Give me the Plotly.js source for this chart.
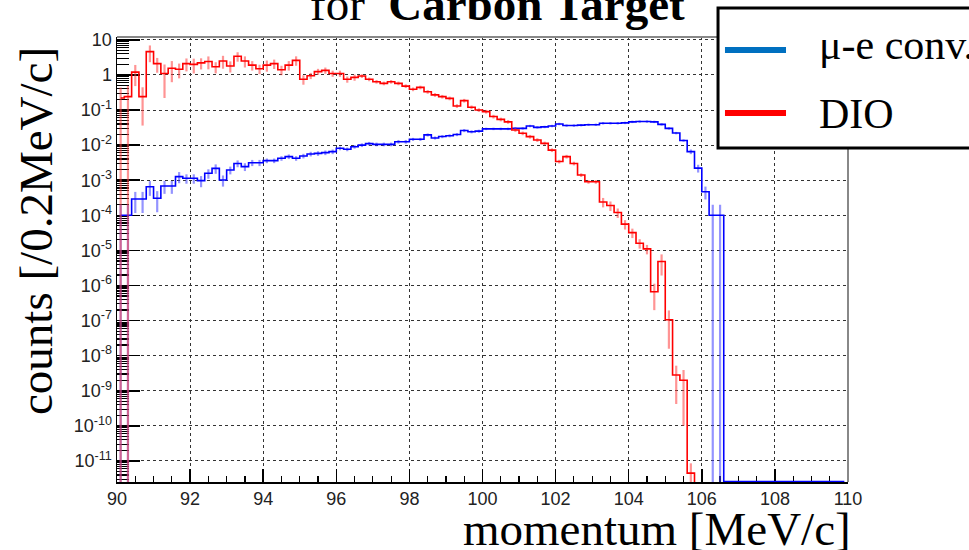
<!DOCTYPE html>
<html><head><meta charset="utf-8">
<script src="https://cdn.plot.ly/plotly-3.0.1.min.js"></script>
<style>html,body{margin:0;padding:0;background:#fff;overflow:hidden}#chart{width:969px;height:550px}</style>
</head><body><div id="chart"></div>
<script>
// Histogram binning (MeV/c)
const binLow = 90;
const binWidth = 0.2;

// DIO counts per 0.2 MeV/c bin; last entry: below plot floor
const dioCounts = [
  0.22, 0.24, 1.2, 0.24, 4.6, 2.1, 1.1, 1.55, 1.45, 2.1,
  2.0, 2.2, 2.4, 1.7, 2.5, 1.8, 3.4, 2.5, 1.9, 1.5,
  1.9, 2.1, 1.4, 1.9, 2.6, 0.75, 0.95, 1.24, 1.35, 1.1,
  1.1, 0.75, 0.85, 0.93, 0.75, 0.64, 0.575, 0.64, 0.575, 0.48,
  0.39, 0.44, 0.33, 0.27, 0.24, 0.215, 0.13, 0.185, 0.12, 0.10,
  0.09, 0.065, 0.054, 0.046, 0.027, 0.0217, 0.0174, 0.014, 0.0112, 0.0072,
  0.0034, 0.0047, 0.003, 0.0014, 0.0009, 0.0009, 2.4e-4, 1.9e-4, 1.2e-4, 5.6e-5,
  3.2e-5, 1.6e-5, 1.1e-5, 6.6e-7, 4.8e-6, 1.05e-7, 2.8e-9, 2.0e-9, 4.5e-12, 1e-13
];
// DIO relative errors per bin
const dioRelErr = [
  1.0, 1.0, 0.6, 0.85, 0.5, 0.45, 0.8, 0.6, 0.45, 0.4,
  0.45, 0.35, 0.4, 0.35, 0.4, 0.35, 0.3, 0.35, 0.3, 0.3,
  0.35, 0.3, 0.3, 0.3, 0.3, 0.3, 0.2, 0.2, 0.2, 0.2,
  0.2, 0.2, 0.2, 0.12, 0.12, 0.12, 0.12, 0.12, 0.12, 0.12,
  0.12, 0.12, 0.12, 0.12, 0.12, 0.12, 0.12, 0.12, 0.12, 0.12,
  0.12, 0.12, 0.12, 0.12, 0.12, 0.12, 0.12, 0.12, 0.12, 0.12,
  0.12, 0.12, 0.12, 0.12, 0.12, 0.12, 0.3, 0.3, 0.3, 0.3,
  0.3, 0.3, 0.3, 0.7, 0.6, 0.85, 0.85, 0.95, 0.9, 0
];

// mu-e conversion counts per bin; last bins sit on the plot floor
const convCounts = [
  1e-4, 1e-4, 2.9e-4, 2.9e-4, 6.5e-4, 3.05e-4, 6.8e-4, 6.8e-4, 1.26e-3, 1.13e-3,
  1.13e-3, 9.7e-4, 1.57e-3, 2.17e-3, 1.01e-3, 1.95e-3, 3.0e-3, 2.43e-3, 3.15e-3, 3.15e-3,
  3.6e-3, 3.6e-3, 4.2e-3, 4.7e-3, 4.2e-3, 4.9e-3, 5.6e-3, 5.8e-3, 6.1e-3, 6.5e-3,
  8.1e-3, 7.6e-3, 9.0e-3, 1.0e-2, 1.1e-2, 1.05e-2, 1.05e-2, 1.05e-2, 1.25e-2, 1.25e-2,
  1.46e-2, 1.46e-2, 1.95e-2, 1.6e-2, 1.75e-2, 1.85e-2, 2.0e-2, 2.6e-2, 2.4e-2, 2.5e-2,
  2.9e-2, 2.9e-2, 2.9e-2, 2.9e-2, 3.0e-2, 3.0e-2, 3.5e-2, 3.2e-2, 3.3e-2, 3.5e-2,
  4.0e-2, 3.6e-2, 3.6e-2, 3.7e-2, 3.8e-2, 3.8e-2, 4.2e-2, 4.2e-2, 4.2e-2, 4.3e-2,
  4.6e-2, 4.7e-2, 4.7e-2, 4.6e-2, 3.9e-2, 3.0e-2, 2.2e-2, 1.35e-2, 6.5e-3, 2.2e-3,
  4.7e-4, 1e-4, 1e-4, 2.6e-12, 2.6e-12, 2.6e-12, 2.6e-12, 2.6e-12, 2.6e-12, 2.6e-12,
  2.6e-12, 2.6e-12, 2.6e-12, 2.6e-12, 2.6e-12, 2.6e-12, 2.6e-12, 2.6e-12, 2.6e-12, 2.6e-12
];
const convRelErr = [
  1.0, 1.0, 0.6, 0.6, 0.45, 0.6, 0.4, 0.4, 0.35, 0.3,
  0.3, 0.35, 0.3, 0.3, 0.35, 0.25, 0.22, 0.25, 0.2, 0.2,
  0.15, 0.15, 0.15, 0.15, 0.15, 0.15, 0.15, 0.15, 0.15, 0.15,
  0.12, 0.12, 0.12, 0.12, 0.12, 0.12, 0.12, 0.12, 0.12, 0.12,
  0.1, 0.1, 0.1, 0.1, 0.1, 0.1, 0.1, 0.1, 0.1, 0.1,
  0.08, 0.08, 0.08, 0.08, 0.08, 0.08, 0.08, 0.08, 0.08, 0.08,
  0.08, 0.08, 0.08, 0.08, 0.08, 0.08, 0.08, 0.08, 0.08, 0.08,
  0.08, 0.08, 0.08, 0.08, 0.08, 0.08, 0.08, 0.08, 0.15, 0.25,
  0.4, 1.0, 1.0, 0, 0, 0, 0, 0, 0, 0,
  0, 0, 0, 0, 0, 0, 0, 0, 0, 0
];

const seriesNames = ['μ-e conv.', 'DIO'];
const xTickVals = [90, 92, 94, 96, 98, 100, 102, 104, 106, 108, 110];
const xTickText = ['90', '92', '94', '96', '98', '100', '102', '104', '106', '108', '110'];
const yTickVals = [1e-11, 1e-10, 1e-9, 1e-8, 1e-7, 1e-6, 1e-5, 1e-4, 1e-3, 1e-2, 1e-1, 1, 10];
const yTickText = ['10<sup>-11</sup>', '10<sup>-10</sup>', '10<sup>-9</sup>', '10<sup>-8</sup>', '10<sup>-7</sup>',
  '10<sup>-6</sup>', '10<sup>-5</sup>', '10<sup>-4</sup>', '10<sup>-3</sup>', '10<sup>-2</sup>',
  '10<sup>-1</sup>', '1', '10'];
const titleText = 'for  <b>Carbon Target</b>';
const xTitle = 'momentum [MeV/c]';
const yTitle = 'counts [/0.2MeV/c]';

function centers(n) { const c = []; for (let i = 0; i < n; i++) c.push(+(binLow + binWidth * (i + 0.5)).toFixed(3)); return c; }
function absErr(v, r) { return v.map((y, i) => y * r[i]); }

// minor tick positions for the log axis (2..9 in each decade)
const yMinor = [];
for (let p = -12; p <= 1; p++) for (let m = 2; m <= 9; m++) yMinor.push(m * Math.pow(10, p));

const convTrace = {
  type: 'scatter', mode: 'lines', name: seriesNames[0],
  x: centers(convCounts.length), y: convCounts,
  line: { shape: 'hvh', color: '#0000ff', width: 1.6 },
  error_y: { type: 'data', array: absErr(convCounts, convRelErr), visible: true, color: 'rgba(60,60,255,0.55)', thickness: 2.2, width: 0 },
  hoverinfo: 'skip'
};
const dioTrace = {
  type: 'scatter', mode: 'lines', name: seriesNames[1],
  x: centers(dioCounts.length), y: dioCounts,
  line: { shape: 'hvh', color: '#ff0000', width: 1.6 },
  error_y: { type: 'data', array: absErr(dioCounts, dioRelErr), visible: true, color: 'rgba(255,60,60,0.55)', thickness: 2.2, width: 0 },
  hoverinfo: 'skip'
};

const tickFont = { family: 'Liberation Sans, Arial, sans-serif', size: 18, color: '#222' };
const serif = 'Liberation Serif, Times New Roman, serif';

const layout = {
  width: 969, height: 550,
  margin: { l: 117, r: 121, t: 37, b: 68, pad: 0 },
  paper_bgcolor: '#fff', plot_bgcolor: '#fff',
  showlegend: false,
  xaxis: {
    range: [90, 110], tickmode: 'array', tickvals: xTickVals, ticktext: xTickText,
    ticks: 'inside', ticklen: 13, tickwidth: 1.5, tickcolor: '#000',
    showline: true, linecolor: '#000', linewidth: 1.5,
    showgrid: true, gridcolor: '#333', griddash: 'dot', gridwidth: 1, zeroline: false,
    tickfont: tickFont, layer: 'below traces', fixedrange: true,
    minor: { tickmode: 'linear', tick0: 90, dtick: 0.5, ticks: 'inside', ticklen: 6, tickwidth: 1.2, tickcolor: '#000', showgrid: false }
  },
  yaxis: {
    type: 'log', range: [-11.6, 1.08], tickmode: 'array', tickvals: yTickVals, ticktext: yTickText,
    ticks: 'inside', ticklen: 23, tickwidth: 1.5, tickcolor: '#000',
    showline: true, linecolor: '#000', linewidth: 1.5,
    showgrid: true, gridcolor: '#333', griddash: 'dot', gridwidth: 1, zeroline: false,
    tickfont: tickFont, layer: 'below traces', fixedrange: true,
    minor: { tickmode: 'array', tickvals: yMinor, ticks: 'inside', ticklen: 12, tickwidth: 1.2, tickcolor: '#000', showgrid: false }
  },
  shapes: [
    { type: 'line', xref: 'paper', yref: 'paper', x0: 0, x1: 1, y0: 1, y1: 1, line: { color: '#888', width: 2 } },
    { type: 'line', xref: 'paper', yref: 'paper', x0: 1, x1: 1, y0: 0, y1: 1, line: { color: '#888', width: 2 } },
    { type: 'rect', xref: 'paper', yref: 'paper', x0: 0.8222, x1: 1.19, y0: 0.7506, y1: 1.0652, line: { color: '#000', width: 3 }, fillcolor: '#fff', layer: 'above' },
    { type: 'line', xref: 'paper', yref: 'paper', x0: 0.8317, x1: 0.9152, y0: 0.9708, y1: 0.9708, line: { color: 'rgb(0,112,192)', width: 6 }, layer: 'above' },
    { type: 'line', xref: 'paper', yref: 'paper', x0: 0.8317, x1: 0.9152, y0: 0.8292, y1: 0.8292, line: { color: '#ff0000', width: 6 }, layer: 'above' }
  ],
  annotations: [
    { text: titleText, xref: 'paper', yref: 'paper', x: 0.52, y: 1.0742, xanchor: 'center', yanchor: 'middle', showarrow: false, font: { family: serif, size: 47, color: '#000' } },
    { text: xTitle, xref: 'paper', yref: 'paper', x: 1.0068, y: -0.1056, xanchor: 'right', yanchor: 'middle', showarrow: false, font: { family: serif, size: 47, color: '#000' } },
    { text: yTitle, xref: 'paper', yref: 'paper', x: -0.1108, y: 0.982, xanchor: 'center', yanchor: 'top', textangle: -90, showarrow: false, font: { family: serif, size: 47, color: '#000' } },
    { text: seriesNames[0], xref: 'paper', yref: 'paper', x: 0.9576, y: 0.982, xanchor: 'left', yanchor: 'middle', showarrow: false, font: { family: serif, size: 42, color: '#000' } },
    { text: seriesNames[1], xref: 'paper', yref: 'paper', x: 0.9576, y: 0.827, xanchor: 'left', yanchor: 'middle', showarrow: false, font: { family: serif, size: 42, color: '#000' } }
  ]
};

Plotly.newPlot('chart', [convTrace, dioTrace], layout, { staticPlot: true, displayModeBar: false });
</script>
</body></html>
